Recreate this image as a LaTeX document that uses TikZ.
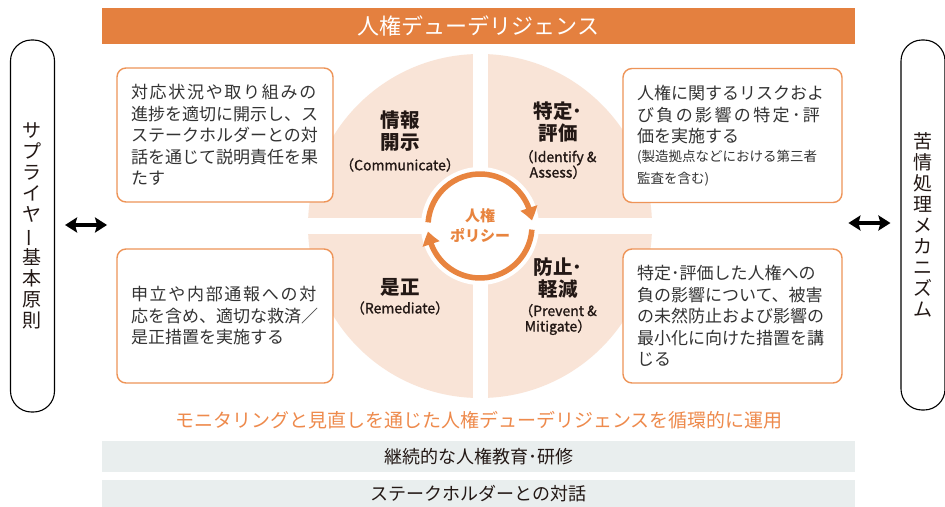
\documentclass[tikz,border=0pt]{standalone}
\usepackage{fontspec}
\usepackage{graphicx}
\setmainfont{Noto Sans CJK JP}
\usetikzlibrary{arrows.meta,bending}
\definecolor{hdr}{HTML}{E4803F}
\definecolor{peach}{HTML}{F9E4D7}
\definecolor{ringc}{HTML}{E8843F}
\definecolor{boxb}{HTML}{EE9458}
\definecolor{barc}{HTML}{E9EEEE}
\definecolor{otext}{HTML}{EE8A4C}
\definecolor{txt}{HTML}{333333}
\definecolor{lbl}{HTML}{231815}
\newcommand\spc[1]{{\addfontfeature{LetterSpace=10}#1}}
\newcommand\vbar{\rotatebox[origin=c]{90}{ー}}
\tikzset{
  box/.style={draw=boxb, line width=1.4pt, rounded corners=9pt, fill=white,
    minimum width=216pt, minimum height=134pt, inner xsep=14pt, inner ysep=0pt,
    text width=188pt, align=left, font=\fontsize{17}{21.5}\selectfont, text=txt},
  qtitle/.style={font=\bfseries\fontsize{19.5}{22}\selectfont, align=center, text=lbl, inner sep=0pt},
  qsub/.style={font=\fontsize{14}{15.5}\selectfont\addfontfeature{FakeBold=1.3}, align=center, text=lbl, inner sep=0pt},
  pill/.style={draw=black, line width=1.1pt, rounded corners=21pt, minimum width=44pt,
    inner sep=0pt, align=center, font=\fontsize{19}{21}\selectfont, text=lbl},
  dbl/.style={{Stealth[length=12pt,width=15pt,inset=2pt]}-{Stealth[length=12pt,width=15pt,inset=2pt]}, line width=3.4pt, black},
  ring/.style={draw=ringc, line width=5.5pt},
  bar/.style={fill=barc, minimum width=753pt, inner sep=0pt, font=\fontsize{18}{20}\selectfont, text=lbl}
}
\begin{document}
\begin{tikzpicture}[x=1pt,y=-1pt]
\useasboundingbox (0,0) rectangle (945,506);
\fill[white] (0,0) rectangle (945,506);
% header
\node[fill=hdr, minimum width=753pt, minimum height=36pt, inner sep=0pt, text=white,
  font=\fontsize{22}{24}\selectfont] (hdr) at (478.5,26) {人権デューデリジェンス};
% circle
\coordinate (c) at (480,226);
\fill[peach] (c) circle[radius=172];
\fill[white] (472.5,45) rectangle (487.5,405);
\fill[white] (300,218) rectangle (660,234);
\fill[white] (c) circle[radius=59];
\draw[ring, -{Triangle[length=13pt,width=17pt,bend]}] ([shift={(184:52)}]c) arc[start angle=184, end angle=354, radius=52];
\draw[ring, -{Triangle[length=13pt,width=17pt,bend]}] ([shift={(4:52)}]c) arc[start angle=4, end angle=174, radius=52];
\node[font=\bfseries\fontsize{15}{20}\selectfont, text=ringc, align=center] (pol) at (c) {人権\\ポリシー};
% quadrant labels
\node[qtitle] (t1) at (400,131) {情報\\開示};
\node[qsub] (s1) at (400,165) {（Communicate）};
\node[qtitle] (t2) at (558,122.5) {特定･\\評価};
\node[qsub] (s2) at (558,164.5) {（Identify \&\\Assess）};
\node[qtitle] (t3) at (400,287) {是正};
\node[qsub] (s3) at (400,308) {（Remediate）};
\node[qtitle] (t4) at (558,278) {防止･\\軽減};
\node[qsub] (s4) at (558,319.5) {（Prevent \&\\Mitigate）};
% boxes
\node[box] (b1) at (225,135) {\spc{対応状況や取り組みの}\\進捗を適切に開示し、ス\\ステークホルダーとの対\\話を通じて説明責任を果\\たす};
\node[box, minimum width=219pt, text width=191pt] (b2) at (732.5,135.5) {人権に関するリスクおよ\\{\addfontfeature{LetterSpace=14}び負の影響の特定･評}\\価を実施する\\[1pt]{\fontsize{13.5}{18}\selectfont (製造拠点などにおける第三者\\監査を含む)}};
\node[box] (b3) at (225,316) {\spc{申立や内部通報への対}\\応を含め、適切な救済／\\是正措置を実施する};
\node[box, minimum width=219pt, text width=191pt] (b4) at (732.5,316) {特定･評価した人権への\\負の影響について、被害\\の未然防止および影響の\\最小化に向けた措置を講\\じる};
% side pills
\node[pill, minimum height=372pt] (lp) at (32.5,226) {サ\\プ\\ラ\\イ\\ヤ\\\vbar\\基\\本\\原\\則};
\node[pill, minimum height=370pt] (rp) at (923,225) {苦\\情\\処\\理\\メ\\カ\\ニ\\ズ\\ム};
\draw[dbl] ([xshift=10pt,yshift=1pt]lp.east) -- ([xshift=52pt,yshift=1pt]lp.east);
\draw[dbl] ([xshift=-52pt,yshift=2pt]rp.west) -- ([xshift=-10pt,yshift=2pt]rp.west);
% bottom
\node[font=\fontsize{19}{22}\selectfont, text=otext] (mon) at (479,420) {モニタリングと見直しを通じた人権デューデリジェンスを循環的に運用};
\node[bar, minimum height=31pt] (bar1) at (478.5,456.5) {継続的な人権教育･研修};
\node[bar, minimum height=29pt] (bar2) at (478.5,494) {ステークホルダーとの対話};
\end{tikzpicture}
\end{document}
